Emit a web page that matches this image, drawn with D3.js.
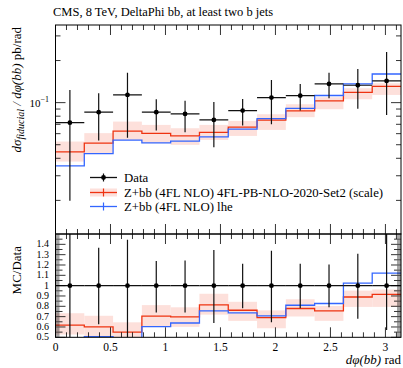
<!DOCTYPE html>
<html>
<head>
<meta charset="utf-8">
<script src="https://cdn.jsdelivr.net/npm/d3@7"></script>
<style>
  body { margin: 0; background: #fff; }
  text { font-family: "Liberation Serif", serif; fill: #000; }
</style>
</head>
<body>
<svg width="403" height="368"></svg>
<script>
// bin edges of dphi(bb), in rad
var binEdges = [0, 0.2618, 0.5236, 0.7854, 1.0472, 1.3090, 1.5708, 1.8326, 2.0944, 2.3562, 2.6180, 2.8798, 3.1416];

// data (pb/rad) with error band limits
var dataVal = [0.0719, 0.0854, 0.1135, 0.0854, 0.0830, 0.0752, 0.0877, 0.1086, 0.1122, 0.1360, 0.1331, 0.1429];
var dataLo  = [0.0199, 0.0535, 0.0560, 0.0631, 0.0615, 0.0480, 0.0685, 0.0701, 0.0877, 0.1075, 0.0906, 0.0817];
var dataHi  = [0.1232, 0.1167, 0.1638, 0.1057, 0.1033, 0.1012, 0.1063, 0.1453, 0.1360, 0.1638, 0.1741, 0.2300];

// Z+bb (4FL NLO) 4FL-PB-NLO-2020-Set2 with scale band
var redVal = [0.0444, 0.0514, 0.0625, 0.0602, 0.0579, 0.0612, 0.0668, 0.0749, 0.0874, 0.1028, 0.1185, 0.1309];
var redLo  = [0.0379, 0.0435, 0.0541, 0.0513, 0.0499, 0.0541, 0.0578, 0.0638, 0.0787, 0.0897, 0.1057, 0.1135];
var redHi  = [0.0527, 0.0605, 0.0732, 0.0693, 0.0656, 0.0693, 0.0740, 0.0826, 0.0974, 0.1093, 0.1267, 0.1376];

// Z+bb (4FL NLO) lhe
var blueVal = [0.0353, 0.0432, 0.0539, 0.0515, 0.0530, 0.0569, 0.0646, 0.0769, 0.0909, 0.1125, 0.1364, 0.1602];

var xTicks = [0, 0.5, 1, 1.5, 2, 2.5, 3];
var xTickLabels = ["0", "0.5", "1", "1.5", "2", "2.5", "3"];
var ratioTicks = [0.5, 0.6, 0.7, 0.8, 0.9, 1, 1.1, 1.2, 1.3, 1.4];
var ratioTickLabels = ["0.5", "0.6", "0.7", "0.8", "0.9", "1", "1.1", "1.2", "1.3", "1.4"];
var legendLabels = ["Data", "Z+bb (4FL NLO) 4FL-PB-NLO-2020-Set2 (scale)", "Z+bb (4FL NLO) lhe"];

var RED = "#ee3311", BLUE = "#3366ff", BAND = "#fde0db";

var svg = d3.select("svg");
var left = 55.5, right = 401, mainTop = 25, mainBot = 234, ratioBot = 337.3;

var x = d3.scaleLinear().domain([0, Math.PI]).range([left, right]);
var y = d3.scaleLog().domain([0.0115, 0.359]).range([mainBot, mainTop]);
var yr = d3.scaleLinear().domain([0.5, 1.5]).range([ratioBot, mainBot]);

var bins = dataVal.map(function(d, i) {
  return { i: i, x0: binEdges[i], x1: binEdges[i + 1], xc: (binEdges[i] + binEdges[i + 1]) / 2 };
});

svg.append("defs").append("clipPath").attr("id", "clipMain")
   .append("rect").attr("x", left).attr("y", mainTop).attr("width", right - left).attr("height", mainBot - mainTop);
svg.select("defs").append("clipPath").attr("id", "clipRatio")
   .append("rect").attr("x", left).attr("y", mainBot).attr("width", right - left).attr("height", ratioBot - mainBot);

// step line helper: value per bin -> path
function stepPath(vals, ys) {
  var pts = vals.map(function(v, i) { return [binEdges[i], v]; });
  pts.push([binEdges[vals.length], vals[vals.length - 1]]);
  return d3.line().curve(d3.curveStepAfter)
    .x(function(p) { return x(p[0]); })
    .y(function(p) { return ys(p[1]); })(pts);
}

function drawPanel(g, ys, val, lo, hi, red, rlo, rhi, blue) {
  g.selectAll(".band").data(bins).enter().append("rect")
    .attr("x", function(b) { return x(b.x0); })
    .attr("width", function(b) { return x(b.x1) - x(b.x0); })
    .attr("y", function(b) { return ys(rhi[b.i]); })
    .attr("height", function(b) { return ys(rlo[b.i]) - ys(rhi[b.i]); })
    .attr("fill", BAND);
  g.append("path").attr("d", stepPath(red, ys)).attr("fill", "none").attr("stroke", RED).attr("stroke-width", 1.3);
  g.append("path").attr("d", stepPath(blue, ys)).attr("fill", "none").attr("stroke", BLUE).attr("stroke-width", 1.3);

  var pt = g.selectAll(".pt").data(bins).enter().append("g");
  pt.append("line")
    .attr("x1", function(b) { return x(b.x0); }).attr("x2", function(b) { return x(b.x1); })
    .attr("y1", function(b) { return ys(val[b.i]); }).attr("y2", function(b) { return ys(val[b.i]); })
    .attr("stroke", "#111").attr("stroke-width", 1.2);
  pt.append("line")
    .attr("x1", function(b) { return x(b.xc); }).attr("x2", function(b) { return x(b.xc); })
    .attr("y1", function(b) { return ys(lo[b.i]); }).attr("y2", function(b) { return ys(hi[b.i]); })
    .attr("stroke", "#111").attr("stroke-width", 1.2);
  pt.append("circle")
    .attr("cx", function(b) { return x(b.xc); }).attr("cy", function(b) { return ys(val[b.i]); })
    .attr("r", 2.4).attr("fill", "#000");
}

// main panel
var gMain = svg.append("g").attr("clip-path", "url(#clipMain)");
drawPanel(gMain, y, dataVal, dataLo, dataHi, redVal, redLo, redHi, blueVal);

// ratio panel (MC / Data)
function ratio(a) { return a.map(function(v, i) { return v / dataVal[i]; }); }
var gRatio = svg.append("g").attr("clip-path", "url(#clipRatio)");
drawPanel(gRatio, yr, dataVal.map(function() { return 1; }), ratio(dataLo), ratio(dataHi),
          ratio(redVal), ratio(redLo), ratio(redHi), ratio(blueVal));

// frames
[[mainTop, mainBot], [mainBot, ratioBot]].forEach(function(f) {
  svg.append("rect").attr("x", left).attr("y", f[0]).attr("width", right - left).attr("height", f[1] - f[0])
     .attr("fill", "none").attr("stroke", "#000").attr("stroke-width", 1);
});

var ticks = svg.append("g").attr("stroke", "#000").attr("stroke-width", 0.8);
function tick(x1, y1, x2, y2) { ticks.append("line").attr("x1", x1).attr("y1", y1).attr("x2", x2).attr("y2", y2); }

// x ticks on all horizontal borders
var xMinor = d3.range(0, 32).map(function(k) { return k / 10; });
[[mainTop, 1], [mainBot, -1], [mainBot, 1], [ratioBot, -1]].forEach(function(e) {
  xMinor.forEach(function(v) {
    var major = xTicks.indexOf(v) >= 0;
    tick(x(v), e[0], x(v), e[0] + e[1] * (major ? 10 : 5));
  });
});

// main y ticks (log)
var yMajor = [0.1];
var yMinor = [0.02, 0.03, 0.04, 0.05, 0.06, 0.07, 0.08, 0.09, 0.2, 0.3];
[[left, 1], [right, -1]].forEach(function(e) {
  yMajor.forEach(function(v) { tick(e[0], y(v), e[0] + e[1] * 10, y(v)); });
  yMinor.forEach(function(v) { tick(e[0], y(v), e[0] + e[1] * 5, y(v)); });
});

// ratio y ticks
var rMinor = d3.range(50, 150).map(function(k) { return k / 100; });
[[left, 1], [right, -1]].forEach(function(e) {
  rMinor.forEach(function(v) {
    var major = Math.abs(v * 10 - Math.round(v * 10)) < 1e-6;
    var half = Math.abs(v * 20 - Math.round(v * 20)) < 1e-6;
    ticks.append("line").attr("x1", e[0]).attr("x2", e[0] + e[1] * (major ? 10 : half ? 7 : 4))
      .attr("y1", yr(v)).attr("y2", yr(v)).attr("stroke-width", major || half ? 0.8 : 0.4);
  });
});

// tick labels
svg.selectAll(".xl").data(xTicks).enter().append("text")
   .attr("x", function(d) { return x(d); }).attr("y", 351)
   .attr("text-anchor", "middle").style("font-size", "11.5px")
   .text(function(d, i) { return xTickLabels[i]; });
svg.selectAll(".rl").data(ratioTicks).enter().append("text")
   .attr("x", 49).attr("y", function(d) { return yr(d) + 3; })
   .attr("text-anchor", "end").style("font-size", "10px")
   .text(function(d, i) { return ratioTickLabels[i]; });
var t10 = svg.append("text").attr("x", 49).attr("y", y(0.1) + 4).attr("text-anchor", "end").style("font-size", "11px");
t10.append("tspan").text("10");
t10.append("tspan").attr("dy", -5).style("font-size", "8px").text("\u22121");

// title
svg.append("text").attr("x", 53).attr("y", 16).style("font-size", "12.5px")
   .text("CMS, 8 TeV, DeltaPhi bb, at least two b jets");

// axis labels
var yl = svg.append("text").attr("transform", "translate(21," + (mainTop + 2) + ") rotate(-90)")
   .attr("text-anchor", "end").style("font-size", "13px");
yl.append("tspan").style("font-style", "italic").text("d\u03c3");
yl.append("tspan").attr("dy", 3).style("font-style", "italic").style("font-size", "10px").text("fiducial");
yl.append("tspan").attr("dy", -3).style("font-style", "italic").text(" / d\u03c6(bb)");
yl.append("tspan").text("  pb/rad");

svg.append("text").attr("transform", "translate(21," + (mainBot + 12) + ") rotate(-90)")
   .attr("text-anchor", "end").style("font-size", "13px").text("MC/Data");

var xlab = svg.append("text").attr("x", right).attr("y", 364).attr("text-anchor", "end").style("font-size", "13px");
xlab.append("tspan").style("font-style", "italic").text("d\u03c6(bb)");
xlab.append("tspan").text(" rad");

// legend
var leg = svg.append("g");
var legY = [177.5, 192.5, 206.5];
var lx0 = 90, lx1 = 117, lxc = 103.5;
leg.append("rect").attr("x", lx0).attr("y", legY[1] - 4).attr("width", lx1 - lx0).attr("height", 8).attr("fill", BAND);
[["#111", 0], [RED, 1], [BLUE, 2]].forEach(function(c) {
  var yy = legY[c[1]];
  leg.append("line").attr("x1", lx0).attr("x2", lx1).attr("y1", yy).attr("y2", yy).attr("stroke", c[0]).attr("stroke-width", 1.3);
  leg.append("line").attr("x1", lxc).attr("x2", lxc).attr("y1", yy - 4).attr("y2", yy + 4).attr("stroke", c[0]).attr("stroke-width", 1.2);
  leg.append("text").attr("x", 124).attr("y", yy + 4).style("font-size", "12.8px").text(legendLabels[c[1]]);
});
leg.append("circle").attr("cx", lxc).attr("cy", legY[0]).attr("r", 2.4).attr("fill", "#000");
</script>
</body>
</html>
